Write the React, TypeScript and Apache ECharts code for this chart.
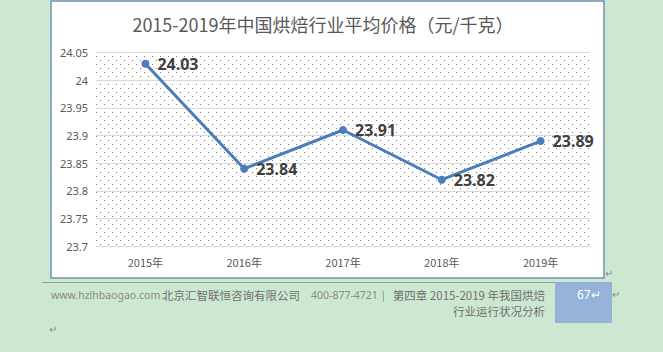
import React, { useEffect, useRef } from "react";
import * as echarts from "echarts";

const categories = ["2015年", "2016年", "2017年", "2018年", "2019年"];
const prices = [24.03, 23.84, 23.91, 23.82, 23.89];
const titleText = "2015-2019年中国烘焙行业平均价格（元/千克）";
const footerUrl = "www.hzlhbaogao.com";
const footerCompany = "北京汇智联恒咨询有限公司";
const footerPhone = "400-877-4721 |";
const footerChapter = "第四章 2015-2019 年我国烘焙";
const footerLine2 = "行业运行状况分析";
const pageNumber = "67";

function makeDots(): string {
  const c = document.createElement("canvas");
  c.width = 8;
  c.height = 8;
  const ctx = c.getContext("2d");
  if (ctx) {
    ctx.fillStyle = "#7a7a86";
    ctx.fillRect(0, 0, 1, 1);
    ctx.fillRect(4, 4, 1, 1);
  }
  return c.toDataURL();
}

export default function App() {
  const ref = useRef<HTMLDivElement>(null);
  useEffect(() => {
    if (!ref.current) return;
    const chart = echarts.init(ref.current, null, { renderer: "svg" });
    const font = "'Noto Sans', 'Noto Sans CJK SC', sans-serif";
    const cjk = "'Noto Sans CJK SC', 'Noto Sans', sans-serif";
    const footText = (text: string, x: number, y: number, align: string, size: number, fill: string, family: string) => ({
      type: "text",
      x,
      y,
      style: {
        text,
        fill,
        fontSize: size,
        fontFamily: family,
        textAlign: align,
        textVerticalAlign: "middle",
      },
    });
    chart.setOption({
      animation: false,
      backgroundColor: "#cde8d0",
      textStyle: { fontFamily: font },
      grid: {
        left: 96,
        right: 73,
        top: 52.7,
        bottom: 106,
        show: true,
        borderWidth: 0,
        backgroundColor: {
          image: makeDots(),
          repeat: "repeat",
          imageWidth: 8,
          imageHeight: 8,
        } as any,
      },
      xAxis: {
        type: "category",
        data: categories,
        axisLine: { show: true, lineStyle: { color: "#d9d9d9", width: 1 } },
        axisTick: { show: false },
        axisLabel: { color: "#595959", fontSize: 11, margin: 10, fontFamily: cjk },
      },
      yAxis: {
        type: "value",
        min: 23.7,
        max: 24.05,
        interval: 0.05,
        axisLine: { show: false },
        axisTick: { show: false },
        splitLine: { lineStyle: { color: "#d9d9d9", width: 1 } },
        axisLabel: { color: "#595959", fontSize: 11, margin: 8 },
      },
      series: [
        {
          type: "line",
          data: prices,
          symbol: "circle",
          symbolSize: 8,
          lineStyle: { color: "#4a7dba", width: 3 },
          itemStyle: { color: "#4a7dba" },
          label: {
            show: true,
            position: "right",
            distance: 8,
            fontSize: 16,
            fontWeight: "bold",
            color: "#404040",
            fontFamily: font,
          },
        },
      ],
      graphic: [
        {
          type: "rect",
          z: -1,
          shape: { x: 51, y: 1, width: 553, height: 277 },
          style: { fill: "#ffffff", stroke: "#7391b5", lineWidth: 1.5 },
        },
        {
          type: "text",
          x: 323,
          y: 23.5,
          style: {
            text: titleText,
            fill: "#595959",
            fontSize: 18,
            fontFamily: cjk,
            textAlign: "center",
            textVerticalAlign: "middle",
          },
        },
        {
          type: "line",
          shape: { x1: 42, y1: 282.5, x2: 555, y2: 282.5 },
          style: { stroke: "#9a9a9a", lineWidth: 1 },
        },
        {
          type: "rect",
          shape: { x: 555, y: 282, width: 57, height: 41 },
          style: { fill: "#95b3d7" },
        },
        footText(footerUrl, 51, 295, "left", 10.5, "#8a8a8a", font),
        footText(footerCompany, 162, 295, "left", 11.5, "#707070", cjk),
        footText(footerPhone, 311, 295, "left", 10.5, "#8a8a8a", font),
        footText(footerChapter, 545, 295, "right", 11.5, "#707070", cjk),
        footText(footerLine2, 545, 311, "right", 11.5, "#707070", cjk),
        footText(pageNumber + "↵", 577, 294, "left", 12, "#ffffff", font),
        footText("↵", 612, 294, "left", 10, "#8a8a8a", font),
        footText("↵", 605, 273, "left", 10, "#8a8a8a", font),
        footText("↵", 49, 329, "left", 10, "#8a8a8a", font),
      ],
    });
    return () => chart.dispose();
  }, []);
  return (
    <div
      ref={ref}
      style={{ position: "fixed", left: 0, top: 0, width: 663, height: 352 }}
    />
  );
}
